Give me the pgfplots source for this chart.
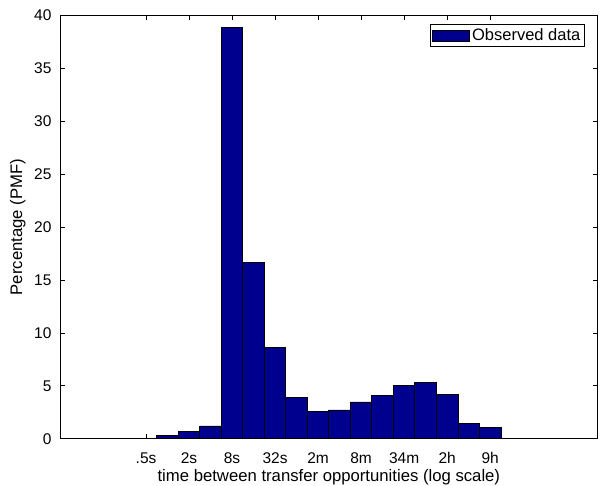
\documentclass[border=0pt]{standalone}
\usepackage{fontspec}
\setmainfont{Liberation Sans}
\usepackage{pgfplots}
\pgfplotsset{compat=1.18}
\definecolor{barblue}{RGB}{0,0,143}
\begin{document}
\begin{tikzpicture}
\useasboundingbox (0,0) rectangle (600pt,485pt);
\begin{axis}[
  at={(60pt,46.3pt)}, anchor=south west,
  scale only axis, width=537.7pt, height=423.4pt,
  xmin=-2, xmax=10.5, ymin=0, ymax=40,
  ytick={0,5,...,40},
  xtick={0,1,...,8},
  xticklabels={.5s,2s,8s,32s,2m,8m,34m,2h,9h},
  tick pos=both,
  tick align=inside,
  major tick length=5pt,
  tick style={black, line width=0.7pt},
  axis line style={black, line width=0.8pt},
  /pgf/number format/assume math mode=true,
  tick label style={font=\fontsize{15.5}{18}\selectfont},
  xticklabel style={anchor=base, yshift=-25pt},
  yticklabel style={anchor=east, xshift=-5pt},
  xlabel={time between transfer opportunities (log scale)},
  ylabel={Percentage (PMF)},
  label style={font=\fontsize{16.7}{19}\selectfont},
  xlabel style={at={(rel axis cs:0.5,0)}, anchor=base, yshift=-43pt},
  ylabel style={at={(rel axis cs:0,0.5)}, anchor=base, yshift=38pt},
  legend style={at={(rel axis cs:1,1)}, anchor=north east, xshift=-13pt, yshift=-9pt,
    draw=black, line width=0.8pt, font=\fontsize{16.5}{19}\selectfont,
    inner xsep=2pt, inner ysep=2pt},
]
\addplot[ybar, bar width=0.5, fill=barblue, draw=black, line width=0.8pt,
  legend image code/.code={\draw[fill=barblue, draw=black, line width=0.6pt] (0pt,-5.5pt) rectangle (37pt,5.5pt);}]
  coordinates {
  (-1.5,0) (-1,0) (-0.5,0) (0,0) (0.5,0.28) (1,0.68) (1.5,1.2)
  (2,38.83) (2.5,16.65) (3,8.62) (3.5,3.9) (4,2.55) (4.5,2.72)
  (5,3.47) (5.5,4.05) (6,5.05) (6.5,5.32) (7,4.15) (7.5,1.48)
  (8,1.1) (8.5,0.05)
  };
\addlegendentry{Observed data}
\end{axis}
\end{tikzpicture}
\end{document}
